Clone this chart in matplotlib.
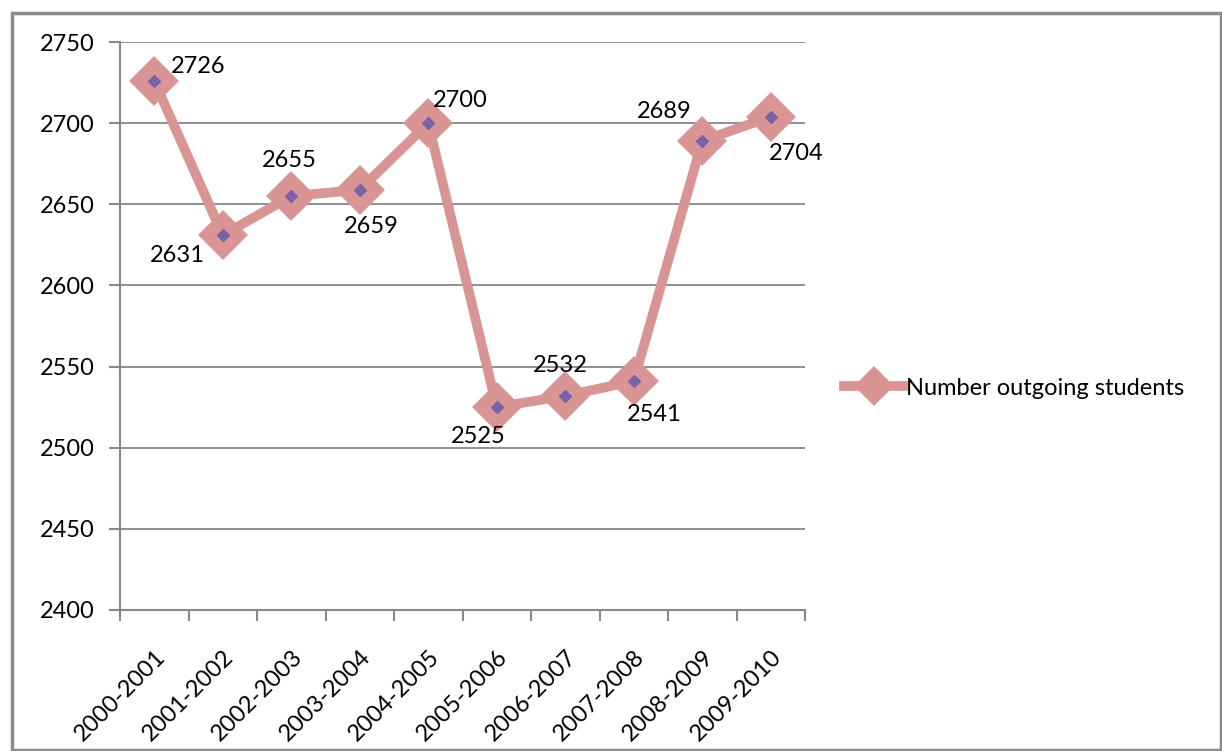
import matplotlib.pyplot as plt
from matplotlib.patches import Rectangle

years = ["2000-2001", "2001-2002", "2002-2003", "2003-2004", "2004-2005",
         "2005-2006", "2006-2007", "2007-2008", "2008-2009", "2009-2010"]
students = [2726, 2631, 2655, 2659, 2700, 2525, 2532, 2541, 2689, 2704]
# label offsets in pixels (dx, dy)
label_offsets = [(44, 14), (-45, -20), (-2, 36), (12, -37), (32, 23),
                 (-18, -29), (-5, 30), (20, -33), (-38, 29), (25, -37)]

plt.rcParams['font.family'] = ['Lato', 'DejaVu Sans']
pink = '#d99594'
purple = '#7b62a8'
grid_gray = '#878787'

fig = plt.figure(figsize=(12.22, 7.51), dpi=100)
ax = fig.add_axes([120 / 1222, 1 - 610 / 751, 685 / 1222, 568 / 751])

x = list(range(len(years)))
ax.plot(x, students, color=pink, linewidth=7, marker='D', markersize=22,
        markerfacecolor=pink, markeredgecolor=pink, markeredgewidth=3,
        solid_joinstyle='round', label='Number outgoing students', zorder=3)
ax.plot(x, students, linestyle='none', marker='D', markersize=6,
        color=purple, zorder=4)

for xi, v, (dx, dy) in zip(x, students, label_offsets):
    ax.annotate(str(v), (xi, v), xytext=(dx, dy), textcoords='offset pixels',
                ha='center', va='center', fontsize=17, zorder=5)

ax.set_ylim(2400, 2750)
ax.set_yticks(range(2400, 2751, 50))
ax.set_xlim(-0.5, len(years) - 0.5)
ax.set_xticks(x)
ax.set_xticklabels(years, rotation=45, ha='right', rotation_mode='anchor')
ax.set_xticks([i - 0.5 for i in range(len(years) + 1)], minor=True)
ax.tick_params(axis='x', which='major', length=0, pad=26, labelsize=17)
ax.tick_params(axis='x', which='minor', length=8, color=grid_gray, width=1.5)
ax.tick_params(axis='y', length=8, color=grid_gray, width=1.5, labelsize=17, pad=10)
ax.yaxis.grid(True, color=grid_gray, linewidth=1.3)
ax.set_axisbelow(True)
for s in ['top', 'right']:
    ax.spines[s].set_visible(False)
for s in ['left', 'bottom']:
    ax.spines[s].set_color(grid_gray)
    ax.spines[s].set_linewidth(1.5)

leg = fig.legend(loc='center left', bbox_to_anchor=(823 / 1222, 1 - 388 / 751),
                 frameon=False, fontsize=17, handlelength=2.5, handletextpad=0.1,
                 markerscale=0.8)

fig.patches.append(Rectangle((12, 1), 1209, 737, transform=None, fill=False,
                             edgecolor='#8c8c8c', linewidth=2.5))

fig.savefig('out.png', dpi=100)
